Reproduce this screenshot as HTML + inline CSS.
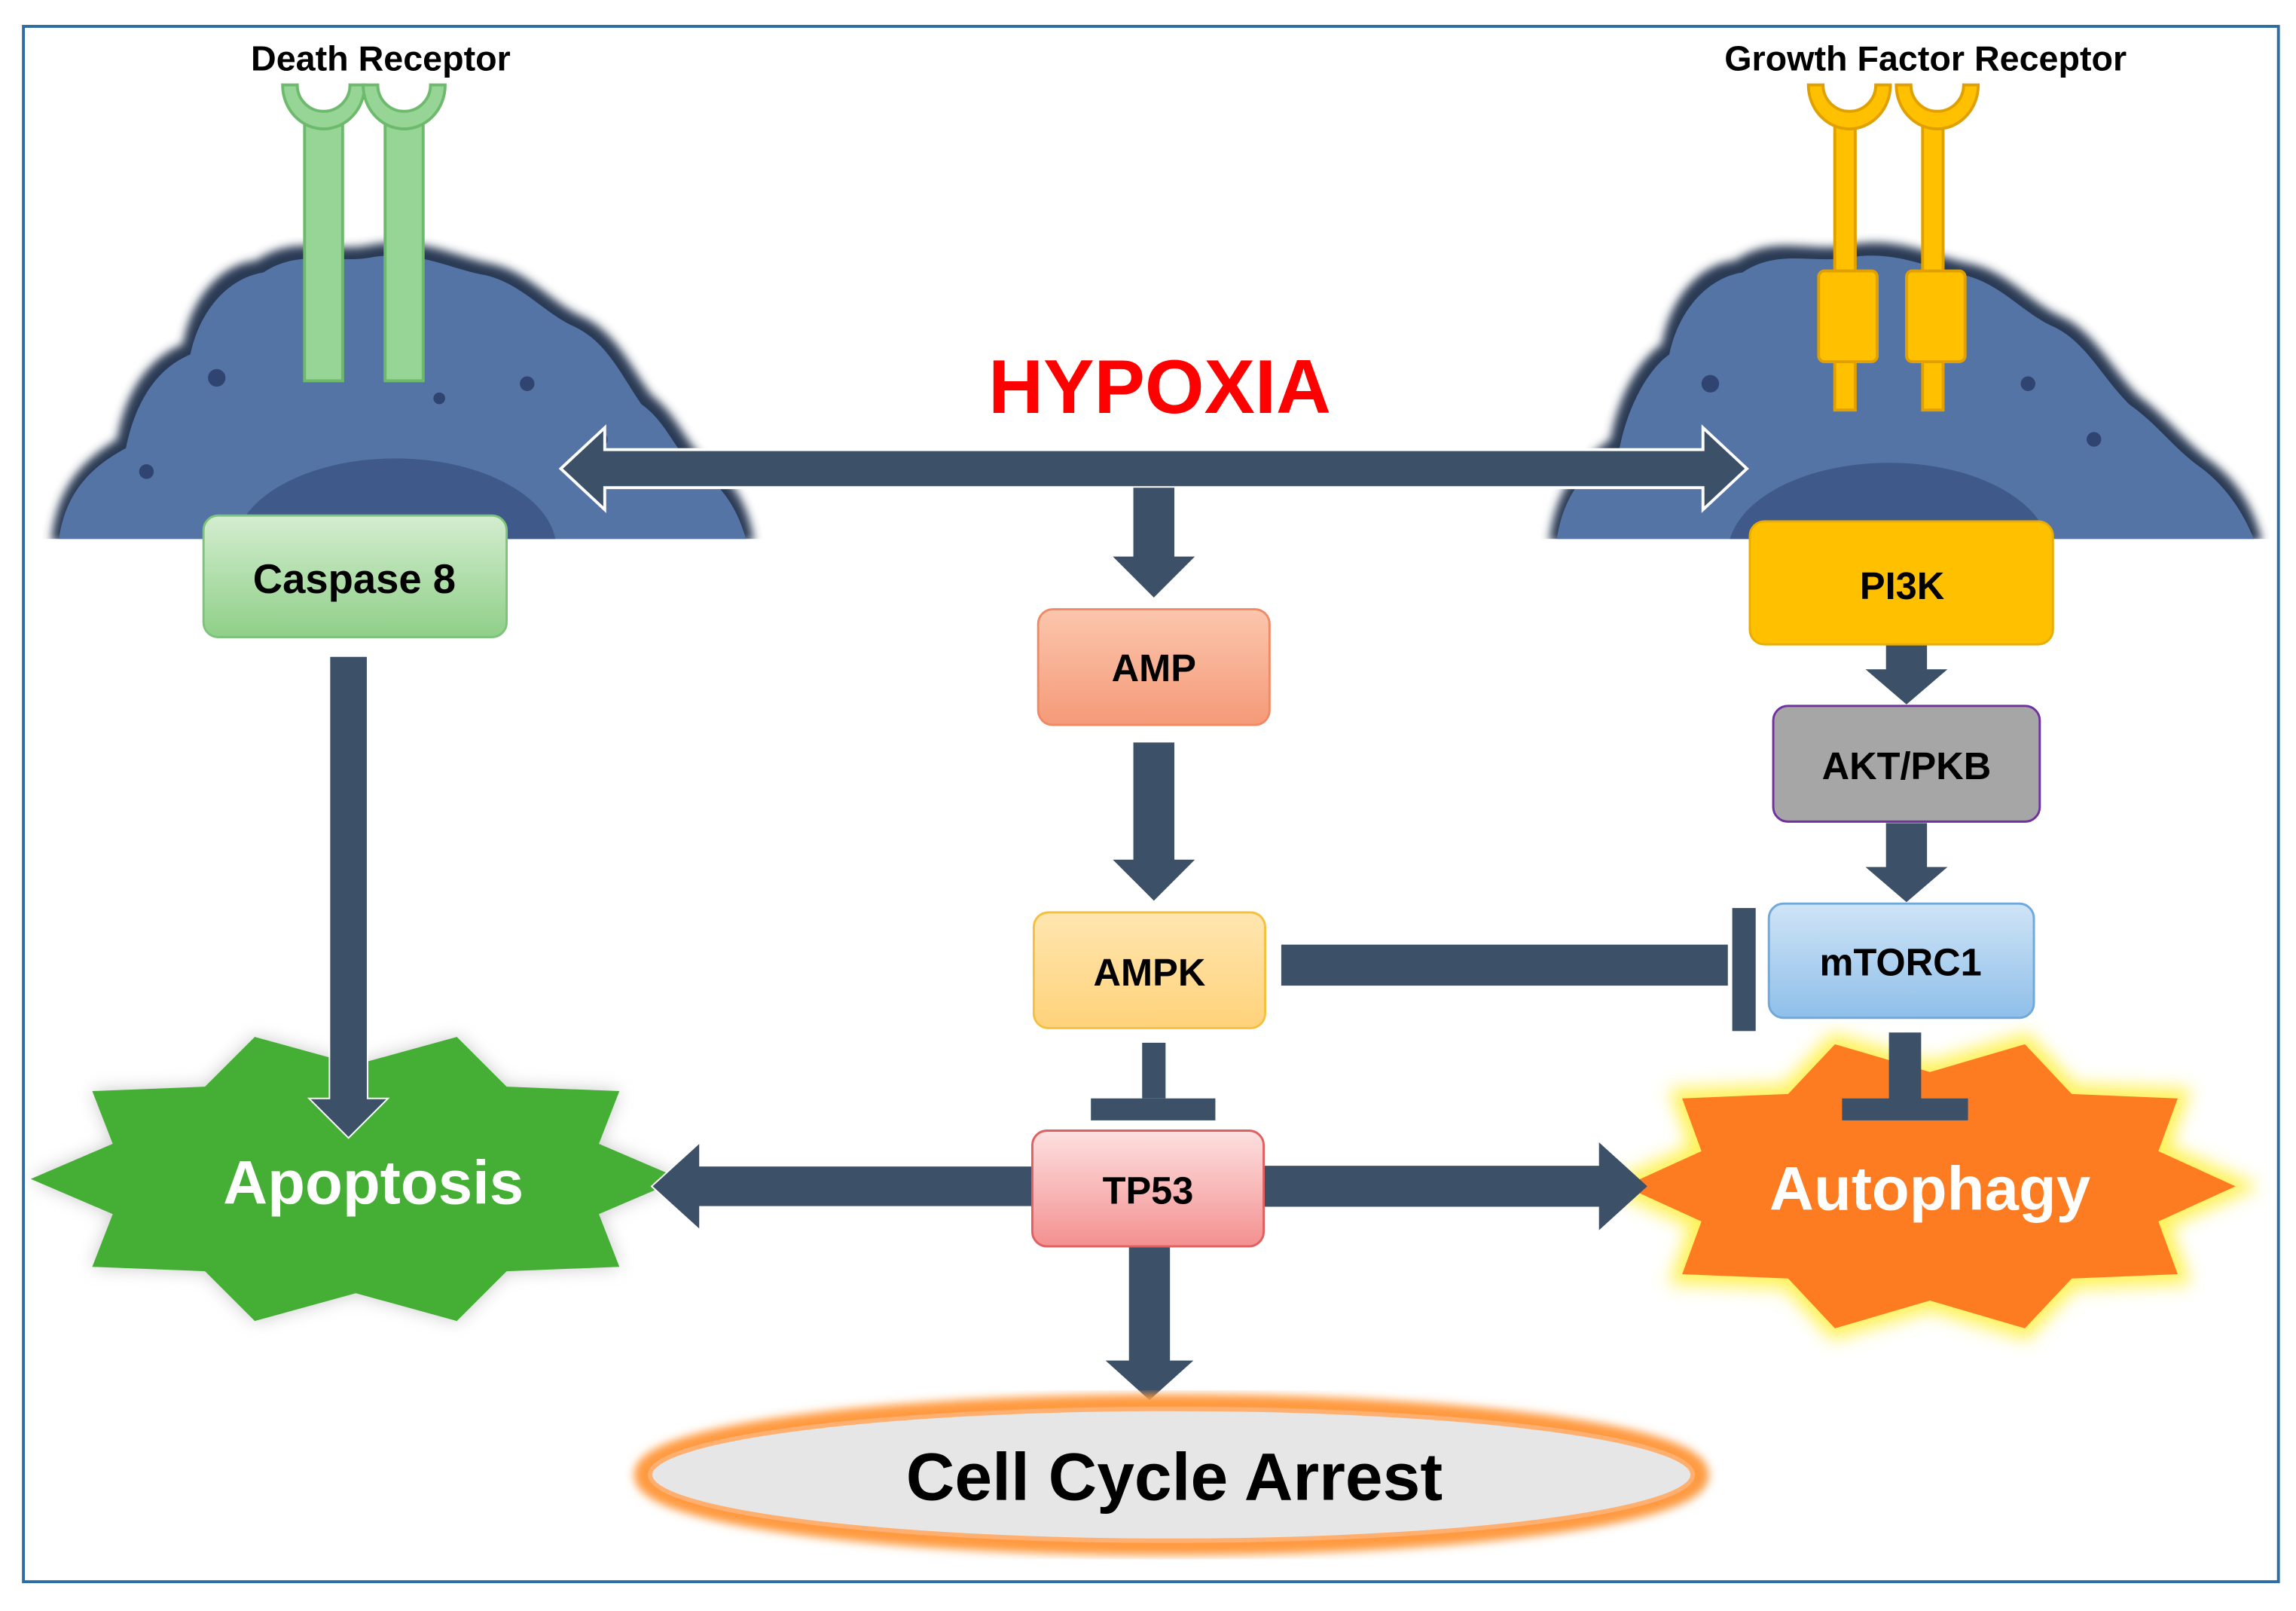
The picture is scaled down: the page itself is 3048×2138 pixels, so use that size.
<!DOCTYPE html>
<html><head><meta charset="utf-8"><style>
html,body{margin:0;padding:0;background:#fff;}
svg{display:block;}
text{font-family:"Liberation Sans","DejaVu Sans",sans-serif;font-weight:bold;}
</style></head><body>
<svg width="3048" height="2138" viewBox="0 0 1568 1100" preserveAspectRatio="none" xmlns="http://www.w3.org/2000/svg">
<defs>
<linearGradient id="gc" x1="0" y1="0" x2="0" y2="1"><stop offset="0" stop-color="#d4edd0"/><stop offset="1" stop-color="#8fcf88"/></linearGradient>
<linearGradient id="gamp" x1="0" y1="0" x2="0" y2="1"><stop offset="0" stop-color="#fbc6ad"/><stop offset="1" stop-color="#f59a78"/></linearGradient>
<linearGradient id="gampk" x1="0" y1="0" x2="0" y2="1"><stop offset="0" stop-color="#ffe6b0"/><stop offset="1" stop-color="#ffd27a"/></linearGradient>
<linearGradient id="gtp" x1="0" y1="0" x2="0" y2="1"><stop offset="0" stop-color="#fde0e0"/><stop offset="1" stop-color="#f49090"/></linearGradient>
<linearGradient id="gm" x1="0" y1="0" x2="0" y2="1"><stop offset="0" stop-color="#cfe4f7"/><stop offset="1" stop-color="#8fbfe9"/></linearGradient>
<filter id="blur" x="-20%" y="-20%" width="140%" height="140%"><feGaussianBlur stdDeviation="6"/></filter>
<filter id="blur2" x="-10%" y="-10%" width="120%" height="120%"><feGaussianBlur stdDeviation="3"/></filter>
<clipPath id="clipc"><rect x="0" y="0" width="1568" height="368"/></clipPath>
</defs>
<rect x="16" y="18" width="1540" height="1062" fill="#fff" stroke="#2e6da4" stroke-width="2"/>

<g clip-path="url(#clipc)">
<path d="M35,370 C38,335 55,315 80,300 C85,270 100,245 125,235 C130,205 150,180 175,178 C200,160 225,172 250,168 C285,160 310,175 335,180 C360,185 375,205 395,215 C420,225 430,250 445,270 C465,285 470,310 490,320 C505,335 512,350 515,370 Z" fill="#2b3a55" filter="url(#blur2)"/>
<path d="M40,370 C44,338 60,320 86,306 C92,276 106,252 130,242 C136,213 155,190 180,186 C204,170 228,180 252,176 C285,170 308,184 332,188 C356,194 370,212 390,222 C414,232 424,256 438,276 C458,290 462,314 482,324 C498,338 505,352 510,370 Z" fill="#5574a6"/>
<ellipse cx="270" cy="375" rx="110" ry="62" fill="#3f5a8a"/>
<circle cx="148" cy="258" r="6" fill="#2f4470"/><circle cx="100" cy="322" r="5" fill="#2f4470"/><circle cx="360" cy="262" r="5" fill="#2f4470"/><circle cx="410" cy="300" r="5" fill="#2f4470"/><circle cx="300" cy="272" r="4" fill="#2f4470"/>

<path d="M1058,370 C1062,335 1078,315 1100,300 C1105,270 1120,245 1135,235 C1140,205 1160,180 1185,178 C1210,160 1235,172 1260,168 C1295,160 1320,175 1345,180 C1370,185 1385,205 1405,215 C1430,225 1440,250 1460,270 C1480,285 1490,300 1510,315 C1530,330 1540,350 1545,370 Z" fill="#2b3a55" filter="url(#blur2)"/>
<path d="M1063,370 C1067,338 1083,320 1106,306 C1112,276 1126,252 1140,242 C1146,213 1165,190 1190,186 C1214,170 1238,180 1262,176 C1295,170 1318,184 1342,188 C1366,194 1380,212 1400,222 C1424,232 1434,256 1454,276 C1474,290 1484,306 1504,320 C1522,334 1533,352 1540,370 Z" fill="#5574a6"/>
<ellipse cx="1290" cy="378" rx="110" ry="62" fill="#3f5a8a"/>
<circle cx="1168" cy="262" r="6" fill="#2f4470"/><circle cx="1120" cy="322" r="5" fill="#2f4470"/><circle cx="1385" cy="262" r="5" fill="#2f4470"/><circle cx="1430" cy="300" r="5" fill="#2f4470"/>
</g>

<g fill="#97d597" stroke="#6dba6d" stroke-width="2">
<rect x="208" y="78" width="26" height="182"/>
<rect x="263" y="78" width="26" height="182"/>
<path d="M193,58 h10 a18,18 0 0 0 36,0 h10 a28,30 0 0 1 -56,0 z"/>
<path d="M248,58 h10 a18,18 0 0 0 36,0 h10 a28,30 0 0 1 -56,0 z"/>
</g>
<g fill="#ffc000" stroke="#e0a000" stroke-width="2">
<rect x="1253" y="85" width="14" height="195"/>
<rect x="1313" y="85" width="14" height="195"/>
<rect x="1242" y="185" width="40" height="62" rx="4"/>
<rect x="1302" y="185" width="40" height="62" rx="4"/>
<path d="M1235,58 h10 a18,18 0 0 0 36,0 h10 a28,30 0 0 1 -56,0 z"/>
<path d="M1295,58 h10 a18,18 0 0 0 36,0 h10 a28,30 0 0 1 -56,0 z"/>
</g>

<text x="260" y="48" font-size="24" text-anchor="middle" fill="#000">Death Receptor</text>
<text x="1315" y="48" font-size="24" text-anchor="middle" fill="#000">Growth Factor Receptor</text>
<text x="792" y="282" font-size="52" text-anchor="middle" fill="#ff0000">HYPOXIA</text>

<!-- stars (drawn first) -->
<g>
<polygon points="465,805 409,829 423,865 346,868 312,902 243,883 174,902 140,868 63,865 77,829 21,805 77,781 63,745 140,742 174,708 243,727 312,708 346,742 423,745 409,781" fill="#999" opacity="0.5" filter="url(#blur)"/>
<polygon points="465,805 409,829 423,865 346,868 312,902 243,883 174,902 140,868 63,865 77,829 21,805 77,781 63,745 140,742 174,708 243,727 312,708 346,742 423,745 409,781" fill="#44ae35"/>
</g>
<g transform="translate(1318,810) scale(0.94,1) translate(-243,-805)">
<polygon points="465,805 409,829 423,865 346,868 312,902 243,883 174,902 140,868 63,865 77,829 21,805 77,781 63,745 140,742 174,708 243,727 312,708 346,742 423,745 409,781" fill="#fff25a" stroke="#fff25a" stroke-width="14" filter="url(#blur)"/>
<polygon points="465,805 409,829 423,865 346,868 312,902 243,883 174,902 140,868 63,865 77,829 21,805 77,781 63,745 140,742 174,708 243,727 312,708 346,742 423,745 409,781" fill="#fd7c22"/>
</g>
<text x="255" y="822" font-size="42" text-anchor="middle" fill="#fff">Apoptosis</text>
<text x="1318" y="826" font-size="42" text-anchor="middle" fill="#fff">Autophagy</text>

<!-- connectors -->
<g fill="#3c5068" stroke="#fff" stroke-width="2" stroke-linejoin="miter">
<path d="M383,320 L413,292 L413,307 L1163,307 L1163,292 L1193,320 L1163,348 L1163,333 L413,333 L413,348 Z"/>
</g>
<g fill="#3c5068">
<path d="M774,333 h28 v47 h14 l-28,28 l-28,-28 h14 z"/>
<path d="M774,507 h28 v80 h14 l-28,28 l-28,-28 h14 z"/>
<path d="M1288,427 h28 v30 h14 l-28,24 l-28,-24 h14 z"/>
<path d="M1288,562 h28 v30 h14 l-28,24 l-28,-24 h14 z"/>
<path d="M225,448 h26 v302 h14 l-27,27 l-27,-27 h14 z" stroke="#fff" stroke-width="1"/>
<rect x="875" y="645" width="305" height="28"/>
<rect x="1183" y="620" width="16" height="84"/>
<rect x="1290" y="705" width="22" height="48"/>
<rect x="1258" y="750" width="86" height="15"/>
<rect x="780" y="712" width="16" height="38"/>
<rect x="745" y="750" width="85" height="15"/>
<path d="M771,851 h28 v78 h16 l-30,27 l-30,-27 h16 z"/>
<path d="M705,796 L478,796 L478,780 L445,810 L478,840 L478,824 L705,824 Z" stroke="#fff" stroke-width="1"/>
<path d="M863,796 L1092,796 L1092,780 L1125,810 L1092,840 L1092,824 L863,824 Z"/>
</g>

<rect x="139" y="352" width="207" height="83" rx="10" fill="url(#gc)" stroke="#7cc47c" stroke-width="1.5"/>
<text x="242" y="405" font-size="28" text-anchor="middle" fill="#000">Caspase 8</text>
<rect x="709" y="416" width="158" height="79" rx="10" fill="url(#gamp)" stroke="#f08a66" stroke-width="1.5"/>
<text x="788" y="465" font-size="26" text-anchor="middle" fill="#000">AMP</text>
<rect x="706" y="623" width="158" height="79" rx="10" fill="url(#gampk)" stroke="#f5c040" stroke-width="1.5"/>
<text x="785" y="673" font-size="26" text-anchor="middle" fill="#000">AMPK</text>
<rect x="705" y="772" width="158" height="79" rx="10" fill="url(#gtp)" stroke="#e06060" stroke-width="1.5"/>
<text x="784" y="822" font-size="26" text-anchor="middle" fill="#000">TP53</text>
<rect x="1195" y="356" width="207" height="84" rx="10" fill="#ffc000" stroke="#e8ad00" stroke-width="1.5"/>
<text x="1299" y="409" font-size="26" text-anchor="middle" fill="#000">PI3K</text>
<rect x="1211" y="482" width="182" height="79" rx="10" fill="#a6a6a6" stroke="#7030a0" stroke-width="1.5"/>
<text x="1302" y="532" font-size="26" text-anchor="middle" fill="#000">AKT/PKB</text>
<rect x="1208" y="617" width="181" height="78" rx="10" fill="url(#gm)" stroke="#6fa8dc" stroke-width="1.5"/>
<text x="1298" y="666" font-size="26" text-anchor="middle" fill="#000">mTORC1</text>

<ellipse cx="800" cy="1007" rx="360" ry="48" fill="none" stroke="#ff9a40" stroke-width="14" filter="url(#blur2)"/>
<ellipse cx="800" cy="1007" rx="356" ry="45" fill="#e6e6e6" stroke="#ffb070" stroke-width="3"/>
<text x="802" y="1024" font-size="46" text-anchor="middle" fill="#000">Cell Cycle Arrest</text>
</svg>
</body></html>
